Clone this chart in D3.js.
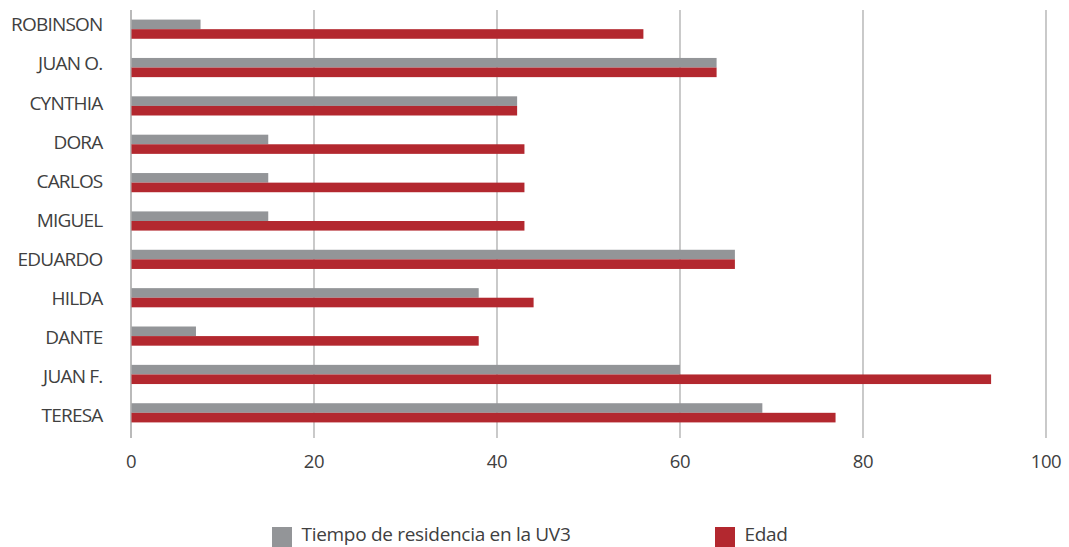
<!DOCTYPE html>
<html>
<head>
<meta charset="utf-8">
<script src="https://cdn.jsdelivr.net/npm/d3@7"></script>
<style>
  body { margin: 0; background: #fff; }
  text { font-family: 'Open Sans', 'Noto Sans', sans-serif; fill: #404040; }
</style>
</head>
<body>
<svg id="chart" width="1069" height="547"></svg>
<script>
var names = ['ROBINSON', 'JUAN O.', 'CYNTHIA', 'DORA', 'CARLOS', 'MIGUEL',
             'EDUARDO', 'HILDA', 'DANTE', 'JUAN F.', 'TERESA'];
var residencia = [7.6, 64, 42.2, 15, 15, 15, 66, 38, 7.1, 60, 69];
var edad = [56, 64, 42.2, 43, 43, 43, 66, 44, 38, 94, 77];
var xTicks = [0, 20, 40, 60, 80, 100];
var seriesNames = ['Tiempo de residencia en la UV3', 'Edad'];
var seriesColors = ['#939598', '#b3282f'];

var svg = d3.select('#chart');

var x = d3.scaleLinear().domain([0, 100]).range([131, 1046]);
var y = d3.scaleBand().domain(names).range([10, 432])
  .paddingInner(0.5).paddingOuter(0.25);
var sub = d3.scaleBand().domain([0, 1]).range([0, y.bandwidth()]);
// labels sit on a slightly wider pitch than the bars
var yLabel = d3.scalePoint().domain(names).range([24.7, 415.7]);

// gridlines
svg.append('g')
  .selectAll('line')
  .data(xTicks)
  .enter().append('line')
  .attr('x1', function(d) { return x(d); })
  .attr('x2', function(d) { return x(d); })
  .attr('y1', 10)
  .attr('y2', 438)
  .attr('stroke', function(d) { return d === 0 ? '#8c8c8c' : '#a6a6a6'; })
  .attr('stroke-width', 1.2);

var rows = names.map(function(n, i) {
  return {name: n, values: [residencia[i], edad[i]]};
});

var row = svg.append('g')
  .selectAll('g')
  .data(rows)
  .enter().append('g')
  .attr('transform', function(d) { return 'translate(0,' + y(d.name) + ')'; });

row.selectAll('rect')
  .data(function(d) { return d.values; })
  .enter().append('rect')
  .attr('x', x(0) + 0.5)
  .attr('y', function(d, i) { return sub(i); })
  .attr('width', function(d) { return x(d) - x(0) - 0.5; })
  .attr('height', sub.bandwidth())
  .attr('fill', function(d, i) { return seriesColors[i]; });

// category labels
svg.append('g')
  .selectAll('text')
  .data(names)
  .enter().append('text')
  .attr('x', 102.5)
  .attr('y', function(d) { return yLabel(d); })
  .attr('dy', '.35em')
  .attr('text-anchor', 'end')
  .style('font-size', '19px')
  .style('letter-spacing', '-0.8px')
  .text(function(d) { return d; });

// x tick labels
svg.append('g')
  .selectAll('text')
  .data(xTicks)
  .enter().append('text')
  .attr('x', function(d) { return x(d); })
  .attr('y', 462)
  .attr('dy', '.35em')
  .attr('text-anchor', 'middle')
  .style('font-size', '18.5px')
  .style('letter-spacing', '-0.4px')
  .text(function(d) { return d; });

// legend
var legendX = [272, 715];
var legend = svg.append('g')
  .selectAll('g')
  .data(seriesNames)
  .enter().append('g')
  .attr('transform', function(d, i) { return 'translate(' + legendX[i] + ',527)'; });
legend.append('rect')
  .attr('width', 20)
  .attr('height', 20)
  .attr('fill', function(d, i) { return seriesColors[i]; });
legend.append('text')
  .attr('x', 29.5)
  .attr('y', 13.5)
  .style('font-size', '19px')
  .style('letter-spacing', '-0.3px')
  .text(function(d) { return d; });
</script>
</body>
</html>
